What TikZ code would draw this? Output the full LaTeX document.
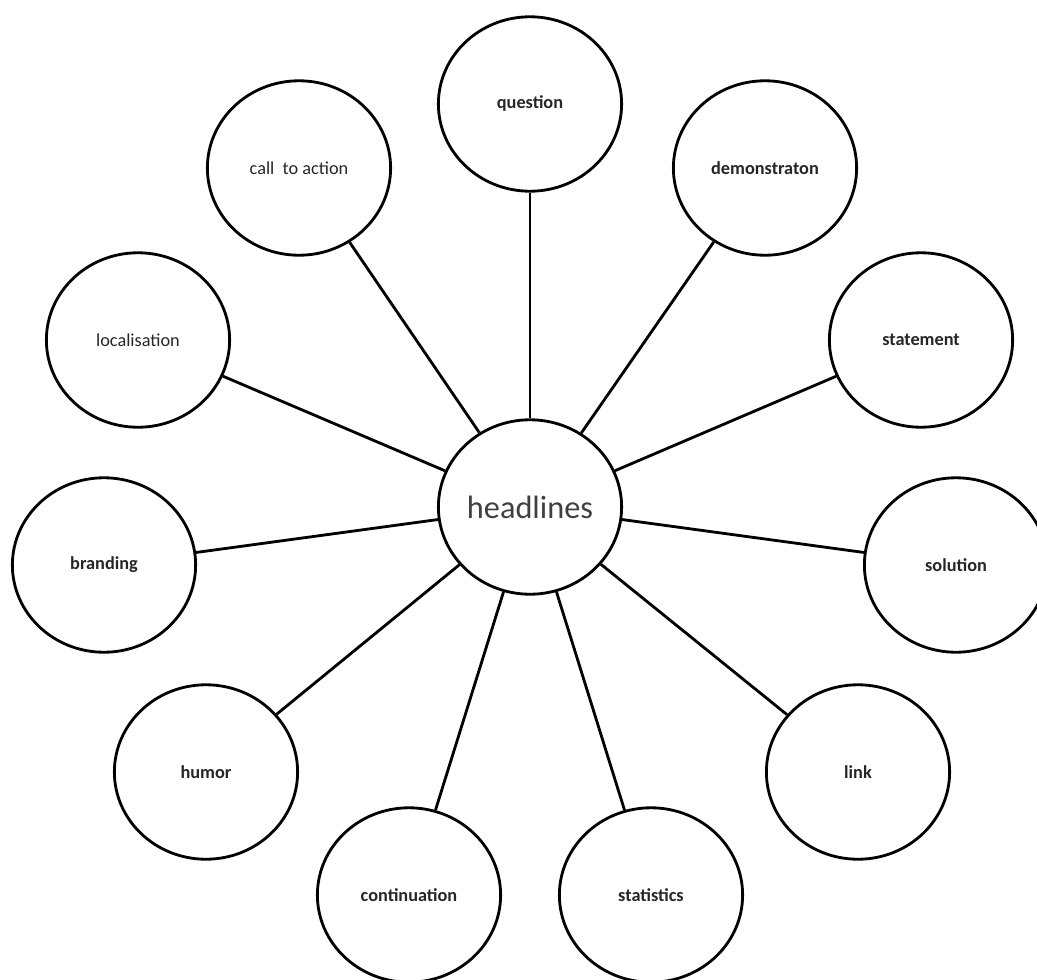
\documentclass[tikz,border=0pt]{standalone}
\usepackage{fontspec}
\setmainfont{Carlito}
\usetikzlibrary{shapes.geometric}
\tikzset{
topic/.style={
ellipse,
draw,
line width=2pt,
minimum width=4.58cm,
minimum height=4.36cm,
inner sep=0pt,
text=black!85,
font=\fontsize{13}{15}\selectfont\bfseries},
thin topic/.style={
topic,
font=\fontsize{13}{15}\selectfont},
hub/.style={
topic,
text=black!75,
font=\fontsize{23}{27}\selectfont},
spoke/.style={
draw,
line width=2pt}}

\begin{document}
\begin{tikzpicture}[x=0.025cm, y=-0.025cm]
\clip (0,0) rectangle (1037,979);
\node[hub] (h) at (530,507) {headlines};
\node[topic] (q) at (530,104) {question};
\node[topic] (dem) at (765,168) {demonstraton};
\node[topic] (stm) at (921,340) {statement};
\node[topic] (sol) at (956,565) {solution};
\node[topic] (lnk) at (858,772) {link};
\node[topic] (sta) at (651,895) {statistics};
\node[topic] (con) at (409,895) {continuation};
\node[topic] (hum) at (206,772) {humor};
\node[topic] (bra) at (104,565) {branding};
\node[thin topic] (loc) at (138,340) {localisation};
\node[thin topic] (cta) at (299,168) {call\ \ to action};
\draw[spoke] (h) -- (q);
\draw[spoke] (h) -- (dem);
\draw[spoke] (h) -- (stm);
\draw[spoke] (h) -- (sol);
\draw[spoke] (h) -- (lnk);
\draw[spoke] (h) -- (sta);
\draw[spoke] (h) -- (con);
\draw[spoke] (h) -- (hum);
\draw[spoke] (h) -- (bra);
\draw[spoke] (h) -- (loc);
\draw[spoke] (h) -- (cta);
\end{tikzpicture}
\end{document}
